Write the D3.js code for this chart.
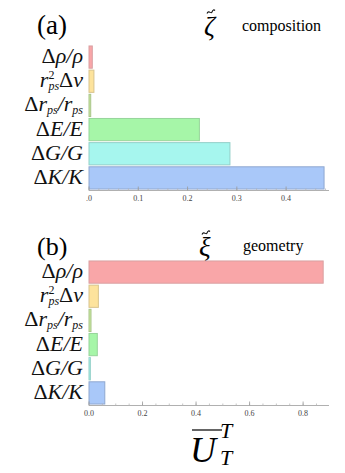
<!DOCTYPE html>
<html>
<head>
<meta charset="utf-8">
<script src="https://cdn.jsdelivr.net/npm/d3@7"></script>
<style>
body { margin: 0; background: #fff; }
</style>
</head>
<body>
<div class="chart"></div>
<script>
// rows, top to bottom
var quantities = ["rho", "nu", "rps", "E", "G", "K"];
var compositionValues = [0.0067, 0.010, 0.0035, 0.224, 0.286, 0.477];
var geometryValues = [0.875, 0.035, 0.0075, 0.031, 0.005, 0.059];
var compositionTicks = [0, 0.1, 0.2, 0.3, 0.4];
var compositionTickLabels = [".0", "0.1", "0.2", "0.3", "0.4"];
var geometryTicks = [0, 0.2, 0.4, 0.6, 0.8];
var geometryTickLabels = ["0.0", "0.2", "0.4", "0.6", "0.8"];

var fills = ["#f9a6a8", "#fde39c", "#c9ea9f", "#a6f6a8", "#a6f6ee", "#a9c8f9"];
var strokes = ["#d9a0a2", "#d8c48e", "#a9c48a", "#96d49a", "#93cfc8", "#8fa8d0"];

// label pieces: [text, italic?, shift, dx] shift: 0 normal, 1 sup, -1 sub
var labels = {
  rho: [["Δ", 0, 0], ["ρ/ρ", 1, 0]],
  nu:  [["r", 1, 0], ["2", 0, 1], ["ps", 1, -1, -6], ["Δ", 0, 0], ["ν", 1, 0]],
  rps: [["Δ", 0, 0], ["r", 1, 0], ["ps", 1, -1], ["/r", 1, 0], ["ps", 1, -1]],
  E:   [["Δ", 0, 0], ["E/E", 1, 0]],
  G:   [["Δ", 0, 0], ["G/G", 1, 0]],
  K:   [["Δ", 0, 0], ["K/K", 1, 0]]
};

var serif = "Liberation Serif";

var W = 345, H = 473;
var svg = d3.select(".chart").append("svg")
            .attr("width", W)
            .attr("height", H)
            .style("font-family", serif);

var x0 = 89, x1 = 328;

function panel(values, xmax, ticks, tickLabels, minorStep, top, bottom) {
  var x = d3.scaleLinear().domain([0, xmax]).range([x0, x1]);
  var y = d3.scaleBand().domain(quantities).range([top, bottom])
            .paddingInner(0.08).paddingOuter(0.04);
  var g = svg.append("g");

  // bars
  g.selectAll("rect.bar").data(values).enter()
   .append("rect")
   .attr("class", "bar")
   .attr("x", x(0))
   .attr("y", function(d, i){ return y(quantities[i]); })
   .attr("width", function(d){ return Math.max(1, x(d) - x(0)); })
   .attr("height", y.bandwidth())
   .attr("fill", function(d, i){ return fills[i]; })
   .attr("stroke", function(d, i){ return strokes[i]; })
   .attr("stroke-width", 1);

  // axis line
  var axisY = bottom + 0.5;
  g.append("line")
   .attr("x1", x0).attr("x2", x1 + 1)
   .attr("y1", axisY).attr("y2", axisY)
   .attr("stroke", "#b0b0b0").attr("stroke-width", 1);

  // minor ticks
  var minor = d3.range(0, xmax + 1e-9, minorStep);
  g.selectAll("line.minor").data(minor).enter()
   .append("line")
   .attr("x1", function(d){ return x(d); }).attr("x2", function(d){ return x(d); })
   .attr("y1", axisY).attr("y2", axisY - 2)
   .attr("stroke", "#b8b8b8").attr("stroke-width", 0.8);

  // major ticks
  g.selectAll("line.major").data(ticks).enter()
   .append("line")
   .attr("x1", function(d){ return x(d); }).attr("x2", function(d){ return x(d); })
   .attr("y1", axisY).attr("y2", axisY - 4)
   .attr("stroke", "#999").attr("stroke-width", 0.8);

  g.selectAll("text.tick").data(ticks).enter()
   .append("text")
   .attr("x", function(d){ return x(d); })
   .attr("y", axisY + 10)
   .attr("text-anchor", "middle")
   .attr("font-size", 8)
   .attr("fill", "#444")
   .text(function(d, i){ return tickLabels[i]; });

  // category labels
  quantities.forEach(function(q){
    var t = g.append("text")
             .attr("x", 83)
             .attr("y", y(q) + y.bandwidth() / 2 + 6)
             .attr("text-anchor", "end")
             .attr("font-size", 22)
             .attr("fill", "#111");
    var prev = 0;
    labels[q].forEach(function(p){
      var dy = 0, size = 22;
      if (p[2] === 1) { dy = -8; size = 12; }
      if (p[2] === -1) { dy = 3; size = 12; }
      var s = t.append("tspan")
       .attr("dy", dy - prev)
       .attr("font-size", size)
       .attr("font-style", p[1] ? "italic" : "normal")
       .text(p[0]);
      if (p[3]) s.attr("dx", p[3]);
      prev = dy;
    });
  });
  return g;
}

panel(compositionValues, 0.485, compositionTicks, compositionTickLabels, 0.02, 45, 190);
panel(geometryValues, 0.893, geometryTicks, geometryTickLabels, 0.05, 260, 405);

// small tilde drawn as a path
function tilde(cx, cy) {
  svg.append("path")
     .attr("d", "M" + (cx - 4) + "," + (cy + 1.5) +
                " C" + (cx - 2) + "," + (cy - 2.5) + " " + (cx) + "," + (cy + 2.5) + " " + (cx + 1) + "," + (cy) +
                " S" + (cx + 3) + "," + (cy - 2.5) + " " + (cx + 4) + "," + (cy - 1.5))
     .attr("fill", "none").attr("stroke", "#111").attr("stroke-width", 1.1);
}

// panel titles
svg.append("text").attr("x", 37).attr("y", 34).attr("font-size", 27).text("(a)");
svg.append("text").attr("x", 37).attr("y", 255).attr("font-size", 26).text("(b)");

svg.append("text").attr("x", 204).attr("y", 35).attr("font-size", 27)
   .attr("font-style", "italic").text("ζ");
tilde(211, 12);
svg.append("text").attr("x", 242).attr("y", 31).attr("font-size", 16).text("composition");

svg.append("text").attr("x", 199).attr("y", 256).attr("font-size", 27)
   .attr("font-style", "italic").text("ξ");
tilde(206, 233);
svg.append("text").attr("x", 243).attr("y", 251).attr("font-size", 16).text("geometry");

// x-axis title
svg.append("line").attr("x1", 192).attr("x2", 222).attr("y1", 430).attr("y2", 430)
   .attr("stroke", "#111").attr("stroke-width", 1.3);
svg.append("text").attr("x", 190).attr("y", 462).attr("font-size", 36)
   .attr("font-style", "italic").text("U");
svg.append("text").attr("x", 220).attr("y", 438).attr("font-size", 22)
   .attr("font-style", "italic").text("T");
svg.append("text").attr("x", 220).attr("y", 465).attr("font-size", 22)
   .attr("font-style", "italic").text("T");
</script>
</body>
</html>
